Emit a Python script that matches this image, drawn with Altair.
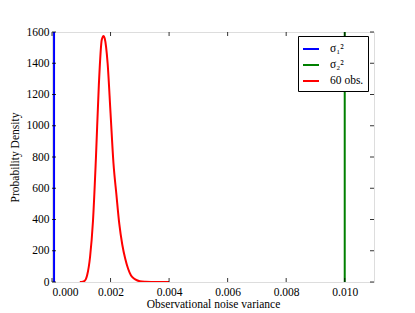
import altair as alt
import pandas as pd

# Data
curve_x = [0.00095, 0.0010, 0.0011, 0.0012, 0.0013, 0.0014, 0.0015, 0.0016, 0.0017,
           0.00176, 0.0018, 0.0019, 0.0020, 0.0021, 0.0022, 0.0023, 0.0024, 0.0025,
           0.0026, 0.0027, 0.0028, 0.0029, 0.0030, 0.0032, 0.0034, 0.0036, 0.0040]
curve_y = [0, 0.3, 5, 43, 160, 390, 790, 1260, 1550,
           1575, 1560, 1400, 1080, 760, 560, 370, 240, 150,
           85, 42, 22, 11, 5, 1.5, 0.4, 0.1, 0]
series_names = ["σ₁²", "σ₂²", "60 obs."]
series_colors = ["#0000ff", "#008000", "#ff0000"]
vline_x = [0.00007, 0.010]
x_ticks = [0.000, 0.002, 0.004, 0.006, 0.008, 0.010]
y_ticks = [0, 200, 400, 600, 800, 1000, 1200, 1400, 1600]

W, H = 322, 250
FONT = "Liberation Serif"

curve = pd.DataFrame({"x": curve_x, "y": curve_y, "s": series_names[2]})
vlines = pd.DataFrame({"x": vline_x, "y": [0, 0], "y2": [1600, 1600], "s": series_names[:2]})
xt = pd.DataFrame({"x": x_ticks})
yt = pd.DataFrame({"y": y_ticks})

xscale = alt.Scale(domain=[0, 0.011], nice=False, zero=False)
yscale = alt.Scale(domain=[0, 1600], nice=False)
color = alt.Color("s:N",
                  scale=alt.Scale(domain=series_names, range=series_colors),
                  legend=alt.Legend(title=None, orient="none", legendX=246, legendY=4,
                                    symbolType="stroke", symbolSize=256, symbolStrokeWidth=2,
                                    labelFontSize=11.5, labelFont=FONT, strokeColor="black",
                                    fillColor="white", padding=4, rowPadding=1,
                                    cornerRadius=0, labelOffset=10, labelColor="black"))

xaxis = alt.Axis(values=x_ticks, format=".3f", title="Observational noise variance",
                 grid=False, ticks=False, domain=False, labelPadding=4, titlePadding=1,
                 labelOverlap=False,
                 labelFontSize=11.5, titleFontSize=11.5, labelFont=FONT, titleFont=FONT,
                 labelColor="black", titleColor="black", titleFontWeight="normal")
yaxis = alt.Axis(values=y_ticks, format="d", title="Probability Density", grid=False,
                 ticks=False, domain=False, labelPadding=3, titlePadding=6,
                 labelOverlap=False,
                 labelFontSize=11.5, titleFontSize=11.5, labelFont=FONT, titleFont=FONT,
                 labelColor="black", titleColor="black", titleFontWeight="normal")

X = alt.X("x:Q", scale=xscale, axis=xaxis)
Y = alt.Y("y:Q", scale=yscale, axis=yaxis)

line = alt.Chart(curve).mark_line(strokeWidth=2, interpolate="monotone", clip=True).encode(
    x=X, y=Y, color=color,
)
rules = alt.Chart(vlines).mark_rule(strokeWidth=2).encode(
    x=X, y=Y, y2="y2:Q", color=color,
)
tick_style = dict(color="black", strokeWidth=0.8)
bot = alt.Chart(xt).mark_rule(**tick_style).encode(
    x=X, y=alt.value(H), y2=alt.value(H - 4))
top = alt.Chart(xt).mark_rule(**tick_style).encode(
    x=X, y=alt.value(0), y2=alt.value(4))
left = alt.Chart(yt).mark_rule(**tick_style).encode(
    y=Y, x=alt.value(0), x2=alt.value(4))
right = alt.Chart(yt).mark_rule(**tick_style).encode(
    y=Y, x=alt.value(W), x2=alt.value(W - 4))

chart = alt.layer(line, rules, bot, top, left, right).properties(
    width=W, height=H,
    autosize=alt.AutoSizeParams(type="none"),
    padding={"left": 44, "top": 24, "right": 30, "bottom": 30},
).configure_view(stroke="black", strokeWidth=1).configure(background="white")

chart.save("out.html", embed_options={"renderer": "svg", "actions": False})
